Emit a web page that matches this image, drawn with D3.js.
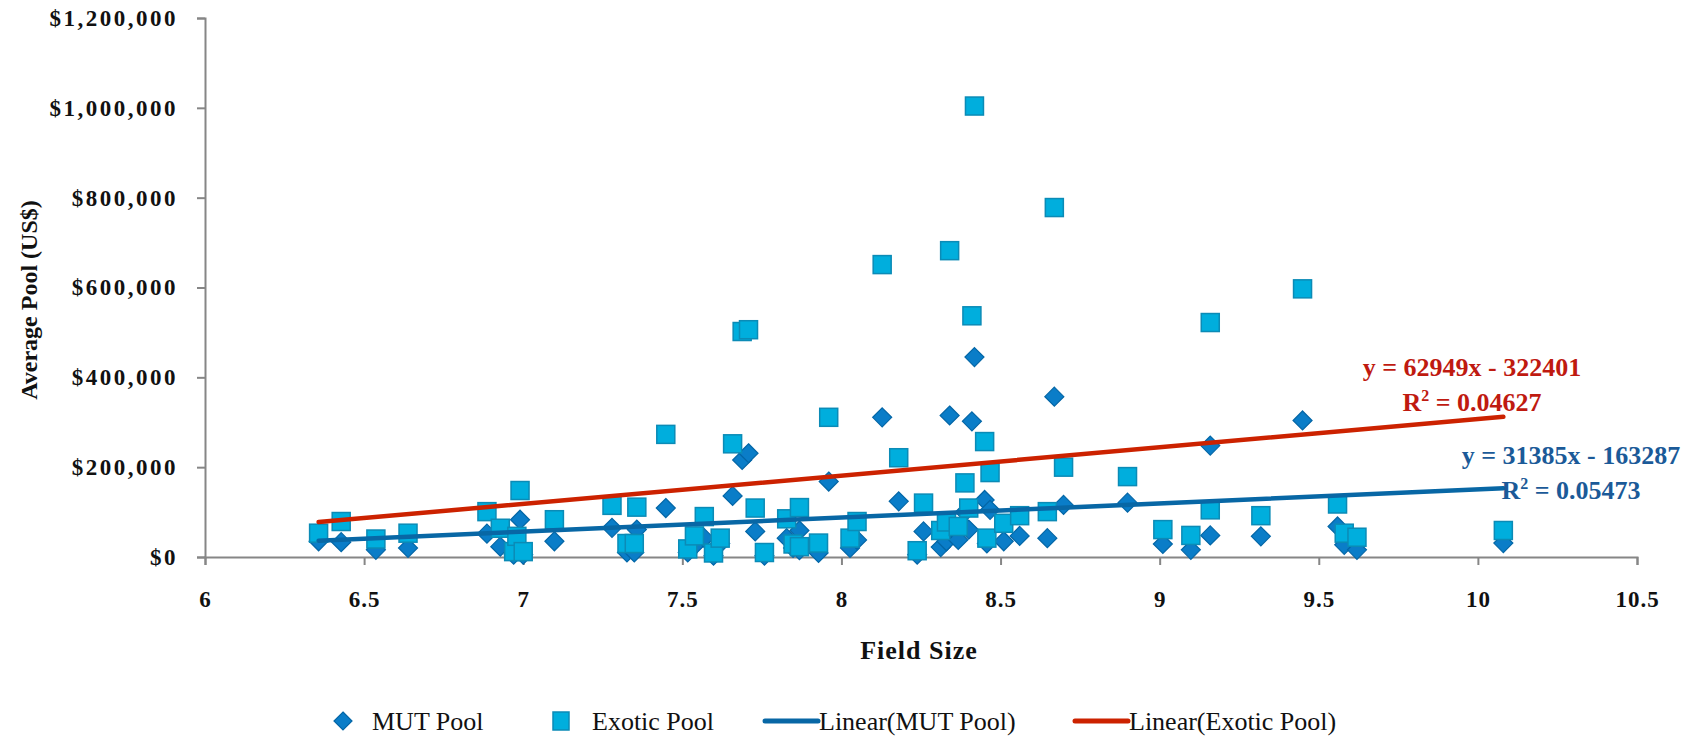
<!DOCTYPE html>
<html>
<head>
<meta charset="utf-8">
<script src="https://cdn.jsdelivr.net/npm/d3@7"></script>
<style>
  html, body { margin: 0; padding: 0; background: #fff; }
  svg { display: block; }
  text { font-family: "Liberation Serif", "DejaVu Serif", serif; }
</style>
</head>
<body>
<svg id="chart" width="1690" height="736"></svg>
<script>
// ---------- data ----------
const fieldSize = [6.357, 6.428, 6.537, 6.638, 6.886, 6.928, 6.97, 6.98, 6.99, 7.00,
  7.098, 7.279, 7.326, 7.349, 7.357, 7.448, 7.517, 7.538, 7.569, 7.598,
  7.619, 7.658, 7.688, 7.708, 7.729, 7.758, 7.828, 7.848, 7.868, 7.868,
  7.928, 7.96, 8.027, 8.049, 8.128, 8.18, 8.238, 8.258, 8.312, 8.33,
  8.34, 8.367, 8.388, 8.40, 8.41, 8.418, 8.45, 8.457, 8.467, 8.51,
  8.56, 8.647, 8.669, 8.698, 8.899, 9.01, 9.098, 9.159, 9.159, 9.318,
  9.449, 9.559, 9.58, 9.62, 10.08];
const mutPool = [35000, 33000, 16000, 20000, 52000, 23000, 5000, 30000, 83000, 5000,
  35000, 65000, 10000, 10000, 61000, 109000, 10000, 25000, 42000, 3000,
  30000, 136000, 216000, 231000, 57000, 3000, 42000, 20000, 59000, 15000,
  9000, 168000, 20000, 38000, 311000, 124000, 5000, 57000, 22000, 35000,
  315000, 38000, 100000, 61000, 302000, 445000, 127000, 30000, 105000, 35000,
  47000, 42000, 357000, 116000, 121000, 29000, 16000, 248000, 48000, 46000,
  304000, 68000, 27000, 16000, 31000];
const exoticPool = [53000, 79000, 40000, 53000, 101000, 64000, 12000, 46000, 148000, 12000,
  83000, 115000, 30000, 30000, 111000, 273000, 18000, 47000, 90000, 9000,
  42000, 252000, 502000, 506000, 109000, 10000, 85000, 29000, 110000, 23000,
  31000, 311000, 42000, 79000, 651000, 221000, 14000, 120000, 59000, 78000,
  682000, 68000, 165000, 109000, 537000, 1004000, 257000, 42000, 188000, 75000,
  92000, 101000, 778000, 200000, 179000, 61000, 48000, 522000, 105000, 92000,
  597000, 118000, 53000, 44000, 59000];

const xTicks = [6, 6.5, 7, 7.5, 8, 8.5, 9, 9.5, 10, 10.5];
const yTicks = [0, 200000, 400000, 600000, 800000, 1000000, 1200000];

const trendNames = ["Linear(MUT Pool)", "Linear(Exotic Pool)"];
const trendSlope = [31385, 62949];
const trendIntercept = [-163287, -322401];
const trendEquation = ["y = 31385x - 163287", "y = 62949x - 322401"];
const trendR2 = ["0.05473", "0.04627"];

const seriesNames = ["MUT Pool", "Exotic Pool"];

// ---------- styles ----------
const C = {
  axis: "#868686",
  diamondFill: "#0A7DC8", diamondStroke: "#0466A6",
  squareFill: "#00AEDD", squareStroke: "#0B8BB6",
  blueLine: "#0867A5", redLine: "#CC2200",
  blueText: "#1B5A98", redText: "#BF1A10"
};

const svg = d3.select("#chart");
const x = d3.scaleLinear().domain([6, 10.5]).range([205, 1637]);
const y = d3.scaleLinear().domain([0, 1200000]).range([557, 18]);

// axes
const fmt = d3.format("$,");
const yAxis = svg.append("g").attr("transform", `translate(${x(6)},0)`)
  .call(d3.axisLeft(y).tickValues(yTicks).tickSize(8).tickPadding(19).tickFormat(d => fmt(d)));
const xAxis = svg.append("g").attr("transform", `translate(0,${y(0)})`)
  .call(d3.axisBottom(x).tickValues(xTicks).tickSize(8).tickPadding(26).tickFormat(d => String(d)));
[yAxis, xAxis].forEach(g => {
  g.select(".domain").attr("stroke", C.axis).attr("stroke-width", 2);
  g.selectAll(".tick line").attr("stroke", C.axis).attr("stroke-width", 2);
  g.selectAll(".tick text").attr("fill", "#111").attr("font-size", 23)
    .attr("font-weight", "bold").attr("font-family", "Liberation Serif");
});
yAxis.selectAll(".tick text").attr("letter-spacing", 2.5);
xAxis.selectAll(".tick text").attr("letter-spacing", 1);

// axis titles
svg.append("text").attr("transform", "translate(37,300) rotate(-90)")
  .attr("text-anchor", "middle").attr("font-size", 24).attr("font-weight", "bold").attr("fill", "#111")
  .text("Average Pool (US$)");
svg.append("text").attr("x", 919).attr("y", 659)
  .attr("text-anchor", "middle").attr("font-size", 26).attr("font-weight", "bold").attr("fill", "#111")
  .attr("letter-spacing", 1)
  .text("Field Size");

// markers
const diamond = r => `M0,${-r}L${r},0L0,${r}L${-r},0Z`;
const pts = fieldSize.map((f, i) => ({ f, m: mutPool[i], e: exoticPool[i] }));
svg.append("g").selectAll("path").data(pts).join("path")
  .attr("transform", d => `translate(${x(d.f)},${y(d.m)})`)
  .attr("d", diamond(9.5))
  .attr("fill", C.diamondFill).attr("stroke", C.diamondStroke).attr("stroke-width", 1.2);
svg.append("g").selectAll("rect").data(pts).join("rect")
  .attr("x", d => x(d.f) - 9).attr("y", d => y(d.e) - 9)
  .attr("width", 18).attr("height", 18)
  .attr("fill", C.squareFill).attr("stroke", C.squareStroke).attr("stroke-width", 1.5);

// trend lines (from regression coefficients, over the data's x range)
const xExt = d3.extent(fieldSize);
const lineColors = [C.blueLine, C.redLine];
trendSlope.forEach((s, k) => {
  svg.append("line")
    .attr("x1", x(xExt[0])).attr("y1", y(s * xExt[0] + trendIntercept[k]))
    .attr("x2", x(xExt[1])).attr("y2", y(s * xExt[1] + trendIntercept[k]))
    .attr("stroke", lineColors[k]).attr("stroke-width", 4.5).attr("stroke-linecap", "round");
});

// equation labels
const eqPos = [[1571, 464, 499], [1472, 376, 411]];
const eqCol = [C.blueText, C.redText];
[0, 1].forEach(k => {
  const g = svg.append("g").attr("fill", eqCol[k]).attr("font-size", 26).attr("font-weight", "bold")
    .attr("text-anchor", "middle");
  g.append("text").attr("x", eqPos[k][0]).attr("y", eqPos[k][1]).text(trendEquation[k]);
  const t = g.append("text").attr("x", eqPos[k][0]).attr("y", eqPos[k][2]);
  t.append("tspan").text("R");
  t.append("tspan").attr("font-size", 16).attr("dy", -10).text("2");
  t.append("tspan").attr("dy", 10).text(" = " + trendR2[k]);
});

// legend
const ly = 721;
const leg = svg.append("g").attr("font-size", 26).attr("fill", "#111");
leg.append("path").attr("transform", `translate(343,${ly})`).attr("d", diamond(9))
  .attr("fill", C.diamondFill).attr("stroke", C.diamondStroke).attr("stroke-width", 1.2);
leg.append("text").attr("x", 372).attr("y", ly + 9).text(seriesNames[0]);
leg.append("rect").attr("x", 553).attr("y", ly - 9).attr("width", 16).attr("height", 18)
  .attr("fill", C.squareFill).attr("stroke", C.squareStroke).attr("stroke-width", 1.5);
leg.append("text").attr("x", 592).attr("y", ly + 9).text(seriesNames[1]);
leg.append("line").attr("x1", 765).attr("x2", 818).attr("y1", ly).attr("y2", ly)
  .attr("stroke", C.blueLine).attr("stroke-width", 5).attr("stroke-linecap", "round");
leg.append("text").attr("x", 819).attr("y", ly + 9).text(trendNames[0]);
leg.append("line").attr("x1", 1075).attr("x2", 1128).attr("y1", ly).attr("y2", ly)
  .attr("stroke", C.redLine).attr("stroke-width", 5).attr("stroke-linecap", "round");
leg.append("text").attr("x", 1129).attr("y", ly + 9).text(trendNames[1]);
</script>
</body>
</html>
